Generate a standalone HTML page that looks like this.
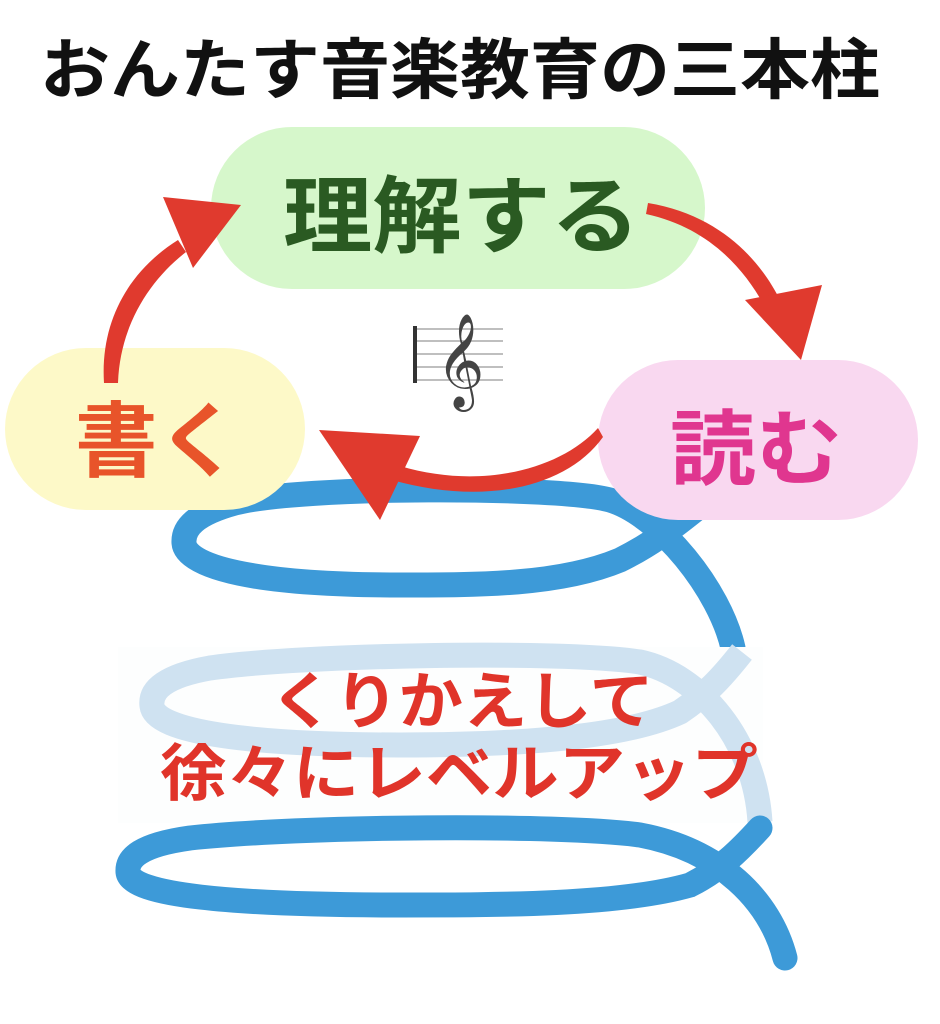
<!DOCTYPE html>
<html><head><meta charset="utf-8"><style>
html,body{margin:0;padding:0;background:#fff;width:940px;height:1024px;overflow:hidden}
svg{display:block}
text{font-family:"Liberation Sans","Noto Sans CJK JP",sans-serif;font-weight:bold}
</style></head><body>
<svg width="940" height="1024" viewBox="0 0 940 1024" xmlns="http://www.w3.org/2000/svg">
<rect width="940" height="1024" fill="#fff"/>
<g fill="none" stroke="#3d9ad8" stroke-width="25" stroke-linecap="round">
<path d="M695 510 C670 530 650 545 620 560 C560 585 480 585 400 585 C270 585 186 570 184 543 C183 528 195 514 235 503 C300 486 560 486 610 500 C660 515 720 590 733 648"/>
</g>
<rect x="118" y="647" width="645" height="176" fill="#fdfefe"/>
<g fill="none" stroke="#cfe2f1" stroke-width="25" stroke-linecap="butt">
<path d="M742 652 C720 680 705 695 680 712 C620 740 500 745 400 745 C250 745 155 732 152 706 C150 690 165 676 210 668 C300 655 560 650 640 662 C700 675 755 740 760 822"/>
</g>
<g fill="none" stroke="#3d9ad8" stroke-width="25" stroke-linecap="round">
<path d="M760 828 C740 850 720 870 690 885 C620 905 500 905 400 905 C230 905 130 895 128 872 C127 858 140 845 190 838 C300 826 560 824 640 835 C720 850 770 900 785 958"/>
</g>
<rect x="211" y="127" width="494" height="162" rx="81" fill="#d6f7cb"/>
<rect x="5" y="348" width="300" height="162" rx="81" fill="#fdf9c8"/>
<rect x="598" y="360" width="320" height="160" rx="80" fill="#f9d8f0"/>
<text x="283" y="246" font-size="84" fill="#2a5a22" textLength="357" lengthAdjust="spacingAndGlyphs">理解する</text>
<text x="75" y="470" font-size="82" fill="#e8542a" textLength="165" lengthAdjust="spacingAndGlyphs">書く</text>
<text x="670" y="478" font-size="82" fill="#e0368f" textLength="172" lengthAdjust="spacingAndGlyphs">読む</text>
<text x="40" y="93" font-size="66" fill="#111" textLength="840" lengthAdjust="spacingAndGlyphs">おんたす音楽教育の三本柱</text>
<g fill="#e03a2e">
<path d="M104 383 C100 320 130 270 178 240 L186 252 C150 280 120 325 118 383 Z"/>
<polygon points="241,205 163,197 193,268"/>
<path d="M648 203 C720 215 760 260 780 300 L765 307 C745 270 710 228 646 214 Z"/>
<polygon points="801,360 745,300 822,285"/>
<path d="M598 428 C560 470 480 490 400 466 L392 480 C480 505 565 490 603 437 Z"/>
<polygon points="380,520 319,430 420,436"/>
</g>
<g stroke="#999" stroke-width="1.3">
<line x1="416" y1="329" x2="503" y2="329"/><line x1="416" y1="341" x2="503" y2="341"/>
<line x1="416" y1="354" x2="503" y2="354"/><line x1="416" y1="367" x2="503" y2="367"/>
<line x1="416" y1="380" x2="503" y2="380"/>
</g>
<rect x="413" y="326" width="4" height="57" fill="#333"/>
<text x="436" y="388" font-size="82" fill="#444" style="font-family:'DejaVu Sans',sans-serif;font-weight:normal">𝄞</text>
<text x="270" y="723" font-size="62" fill="#e0342a" textLength="384" lengthAdjust="spacingAndGlyphs">くりかえして</text>
<text x="160" y="795" font-size="62" fill="#e0342a" textLength="598" lengthAdjust="spacingAndGlyphs">徐々にレベルアップ</text>
</svg>
</body></html>
